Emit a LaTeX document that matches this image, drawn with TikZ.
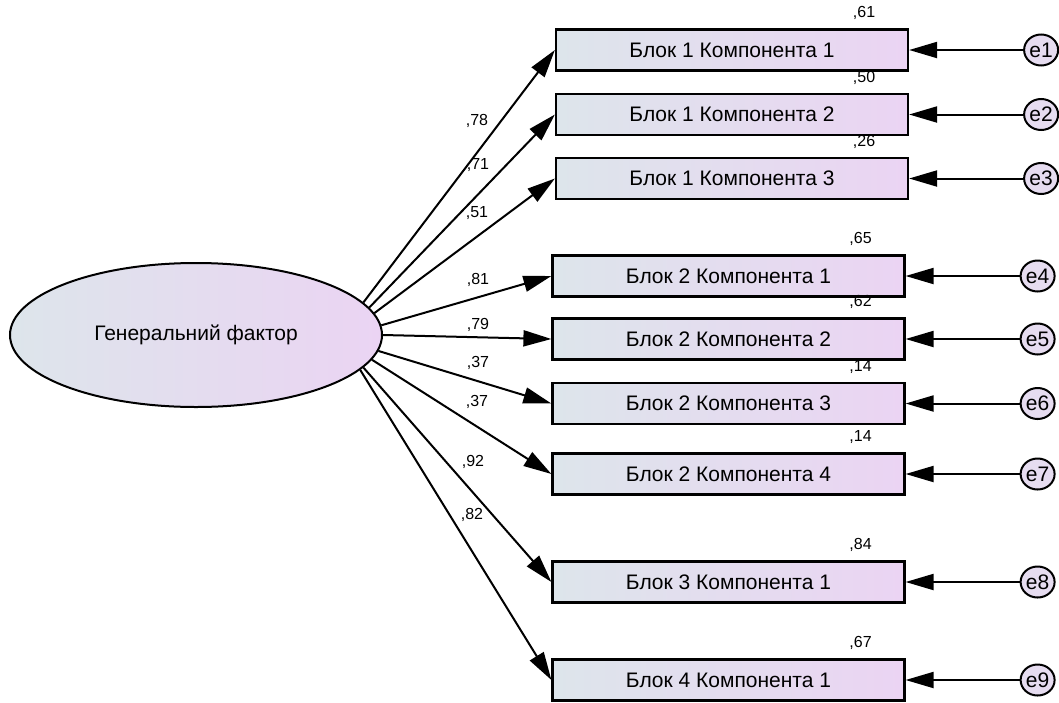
\documentclass[tikz,border=0pt]{standalone}
\usepackage{fontspec}
\setmainfont{Liberation Sans}
\usetikzlibrary{positioning,arrows.meta,shapes.geometric}
\definecolor{greyblue}{HTML}{DDE5EB}
\definecolor{lilac}{HTML}{EBD4F3}
\definecolor{errfill}{HTML}{E6DCF0}

\begin{document}
\begin{tikzpicture}[x=0.5pt, y=-0.5pt,
      font=\fontsize{10.5}{12}\selectfont,
      komp/.style={draw, line width=1.1pt, left color=greyblue, right color=lilac,
                   minimum width=176pt, minimum height=20.5pt, inner sep=0pt},
      faktor/.style={ellipse, draw, line width=1pt, left color=greyblue, right color=lilac,
                     minimum width=186pt, minimum height=72pt},
      err/.style={ellipse, draw, line width=1pt, fill=errfill, minimum width=17pt,
                  minimum height=15.5pt, inner xsep=-2pt, inner ysep=-1pt},
      val/.style={font=\fontsize{8}{9}\selectfont, inner sep=1pt},
      link/.style={-{Triangle[length=14pt,width=8pt]}, line width=1pt},
      node distance=57pt]
    \useasboundingbox (0,0) rectangle (1059,702);
    \node[faktor] (gf) at (196,335) {Генеральний фактор};
    % indicators
    \node[komp] (b1) at (732,50) {Блок 1 Компонента 1};
    \node[komp] (b2) at (732,114.5) {Блок 1 Компонента 2};
    \node[komp] (b3) at (732,178.5) {Блок 1 Компонента 3};
    \node[komp] (b4) at (728.5,276) {Блок 2 Компонента 1};
    \node[komp] (b5) at (728.5,339) {Блок 2 Компонента 2};
    \node[komp] (b6) at (728.5,403.5) {Блок 2 Компонента 3};
    \node[komp] (b7) at (728.5,474) {Блок 2 Компонента 4};
    \node[komp] (b8) at (728.5,582) {Блок 3 Компонента 1};
    \node[komp] (b9) at (728.5,680) {Блок 4 Компонента 1};
    % error terms
    \node[err, right=of b1] (e1) {e1};
    \node[err, right=of b2] (e2) {e2};
    \node[err, right=of b3] (e3) {e3};
    \node[err, right=of b4] (e4) {e4};
    \node[err, right=of b5] (e5) {e5};
    \node[err, right=of b6] (e6) {e6};
    \node[err, right=of b7] (e7) {e7};
    \node[err, right=of b8] (e8) {e8};
    \node[err, right=of b9] (e9) {e9};
    % loadings
    \draw[link] (gf.11) -- (b1.west);
    \draw[link] (gf.9.6) -- (b2.west);
    \draw[link] (gf.7.6) -- (b3.west);
    \draw[link] (gf.3.1) -- (b4.west);
    \draw[link] (gf.-0.5) -- (b5.west);
    \draw[link] (gf.-5) -- (b6.west);
    \draw[link] (gf.-8.2) -- (b7.west);
    \draw[link] (gf.-11.2) -- (b8.west);
    \draw[link] (gf.-12.8) -- (b9.west);
    \node[val] (l1) at (477,121) {,78};
    \node[val] (l2) at (478,165) {,71};
    \node[val] (l3) at (477,213) {,51};
    \node[val] (l4) at (478,280) {,81};
    \node[val] (l5) at (478,325) {,79};
    \node[val] (l6) at (478,363) {,37};
    \node[val] (l7) at (477,402) {,37};
    \node[val] (l8) at (473,462) {,92};
    \node[val] (l9) at (472,515) {,82};
    % residual paths
    \draw[link] (e1) -- (b1);
    \draw[link] (e2) -- (b2);
    \draw[link] (e3) -- (b3);
    \draw[link] (e4) -- (b4);
    \draw[link] (e5) -- (b5);
    \draw[link] (e6) -- (b6);
    \draw[link] (e7) -- (b7);
    \draw[link] (e8) -- (b8);
    \draw[link] (e9) -- (b9);
    % squared multiple correlations
    \node[val, above=3pt] (r1) at ([xshift=-22.5pt]b1.north east) {,61};
    \node[val, above=3pt] (r2) at ([xshift=-22.5pt]b2.north east) {,50};
    \node[val, above=3pt] (r3) at ([xshift=-22.5pt]b3.north east) {,26};
    \node[val, above=3pt] (r4) at ([xshift=-22.5pt]b4.north east) {,65};
    \node[val, above=3pt] (r5) at ([xshift=-22.5pt]b5.north east) {,62};
    \node[val, above=3pt] (r6) at ([xshift=-22.5pt]b6.north east) {,14};
    \node[val, above=3pt] (r7) at ([xshift=-22.5pt]b7.north east) {,14};
    \node[val, above=3pt] (r8) at ([xshift=-22.5pt]b8.north east) {,84};
    \node[val, above=3pt] (r9) at ([xshift=-22.5pt]b9.north east) {,67};
  \end{tikzpicture}
\end{document}
